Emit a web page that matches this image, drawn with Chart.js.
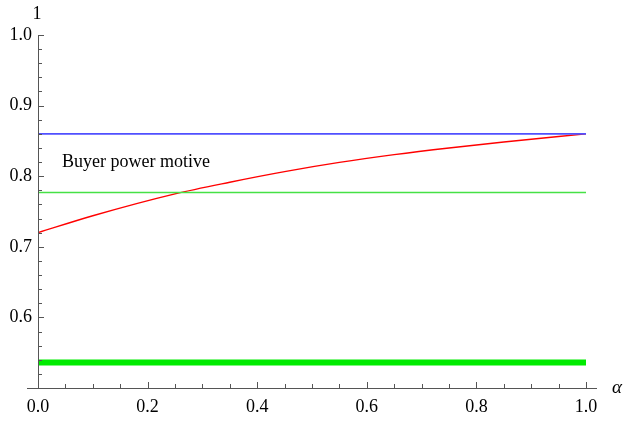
<!DOCTYPE html>
<html>
<head>
<meta charset="utf-8">
<script src="https://cdn.jsdelivr.net/npm/chart.js@4"></script>
<style>
  html, body { margin: 0; padding: 0; background: #fff; }
  #wrap { width: 624px; height: 421px; }
</style>
</head>
<body>
<div id="wrap"><canvas id="c" width="624" height="421"></canvas></div>
<script>
// ---- data ----
const alphaRed   = [0, 0.1, 0.25, 0.35, 0.45, 0.55, 0.65, 0.75, 0.85, 1.0];
const redValues  = [0.72, 0.744, 0.775, 0.7915, 0.8065, 0.8195, 0.8305, 0.840, 0.8485, 0.86];
const alphaFlat  = [0, 1];
const blueValues = [0.86, 0.86];
const greenValues = [0.777, 0.777];
const thickGreenValues = [0.536, 0.536];
const xTickValues = [0, 0.2, 0.4, 0.6, 0.8, 1.0];
const yTickValues = [0.6, 0.7, 0.8, 0.9, 1.0];
const annotationText = 'Buyer power motive';
const annotationPos = [0.044, 0.813];
const xAxisLabel = 'α';
const yAxisLabel = '1';

const toPts = (xs, ys) => xs.map((x, i) => ({x: x, y: ys[i]}));

const serif = '"Liberation Serif", "Times New Roman", serif';

const axesPlugin = {
  id: 'mmaAxes',
  afterDatasetsDraw(chart) {
    const ctx = chart.ctx;
    const xs = chart.scales.x, ys = chart.scales.y;
    const x0 = xs.getPixelForValue(0), y0 = ys.getPixelForValue(0.5);
    ctx.save();
    ctx.strokeStyle = '#555';
    ctx.lineWidth = 1;
    // axis lines
    ctx.beginPath();
    ctx.moveTo(x0 - 11, Math.round(y0) + 0.5);
    ctx.lineTo(xs.getPixelForValue(1) + 11, Math.round(y0) + 0.5);
    ctx.moveTo(Math.round(x0) + 0.5, y0);
    ctx.lineTo(Math.round(x0) + 0.5, ys.getPixelForValue(1.0));
    ctx.stroke();
    // x ticks (every 0.05, major every 0.2)
    ctx.beginPath();
    for (let i = 0; i <= 20; i++) {
      const v = i * 0.05;
      const px = Math.round(xs.getPixelForValue(v)) + 0.5;
      const len = (i % 4 === 0) ? 6 : 4;
      ctx.moveTo(px, y0);
      ctx.lineTo(px, y0 - len);
    }
    // y ticks (every 0.02, major every 0.1)
    for (let i = 0; i <= 25; i++) {
      const v = 0.5 + i * 0.02;
      const py = Math.round(ys.getPixelForValue(v)) + 0.5;
      const len = (i % 5 === 0) ? 6 : 4;
      ctx.moveTo(x0, py);
      ctx.lineTo(x0 + len, py);
    }
    ctx.stroke();
    // axis labels
    ctx.fillStyle = '#000';
    ctx.font = 'italic 19px ' + serif;
    ctx.textAlign = 'center';
    ctx.textBaseline = 'middle';
    ctx.fillText(xAxisLabel, xs.getPixelForValue(1) + 31, y0);
    ctx.font = '18px ' + serif;
    ctx.fillText(yAxisLabel, x0 - 1, ys.getPixelForValue(1.0) - 21);
    // annotation
    ctx.font = '18px ' + serif;
    ctx.textAlign = 'left';
    ctx.textBaseline = 'alphabetic';
    ctx.fillText(annotationText, xs.getPixelForValue(annotationPos[0]), ys.getPixelForValue(annotationPos[1]));
    ctx.restore();
  }
};

new Chart(document.getElementById('c'), {
  type: 'scatter',
  data: {
    datasets: [
      { data: toPts(alphaFlat, thickGreenValues), showLine: true, borderColor: 'rgb(0,235,0)', borderWidth: 6, pointRadius: 0 },
      { data: toPts(alphaFlat, greenValues), showLine: true, borderColor: 'rgb(70,225,70)', borderWidth: 1.5, pointRadius: 0 },
      { data: toPts(alphaFlat, blueValues), showLine: true, borderColor: 'rgb(80,80,255)', borderWidth: 1.6, pointRadius: 0 },
      { data: toPts(alphaRed, redValues), showLine: true, borderColor: 'rgb(255,0,0)', borderWidth: 1.4, pointRadius: 0, cubicInterpolationMode: 'monotone' }
    ]
  },
  options: {
    responsive: false,
    animation: false,
    devicePixelRatio: 1,
    layout: { padding: { top: 35, right: 38, left: 0, bottom: 0 } },
    plugins: { legend: { display: false }, tooltip: { enabled: false } },
    scales: {
      x: {
        type: 'linear', min: 0, max: 1,
        afterBuildTicks: s => { s.ticks = xTickValues.map(v => ({value: v})); },
        afterFit: s => { s.height = 33; },
        grid: { display: false, drawTicks: false },
        border: { display: false },
        ticks: { autoSkip: false, maxRotation: 0, padding: 8, color: '#000', font: { family: serif, size: 18 },
                 callback: v => Number(v).toFixed(1) }
      },
      y: {
        type: 'linear', min: 0.5, max: 1.0,
        afterBuildTicks: s => { s.ticks = yTickValues.map(v => ({value: v})); },
        afterFit: s => { s.width = 38; },
        grid: { display: false, drawTicks: false },
        border: { display: false },
        ticks: { autoSkip: false, padding: 6, color: '#000', font: { family: serif, size: 18 },
                 callback: v => Number(v).toFixed(1) }
      }
    }
  },
  plugins: [axesPlugin]
});
</script>
</body>
</html>
